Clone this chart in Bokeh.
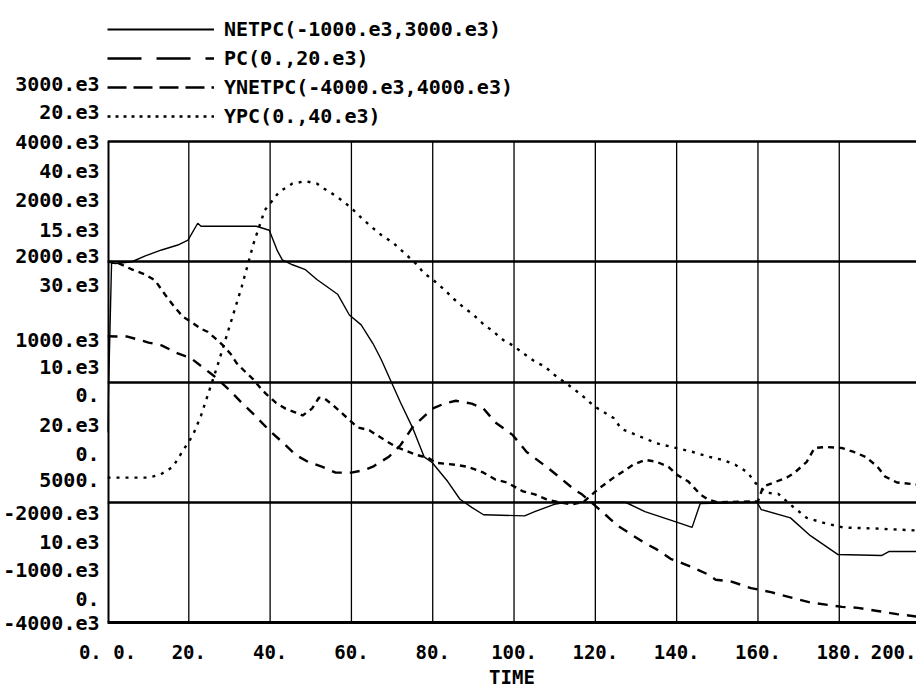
from bokeh.plotting import figure
from bokeh.models import Range1d, FixedTicker, Legend, LegendItem
from bokeh.embed import file_html
from bokeh.resources import INLINE

# ---------------- data ----------------
TIME_MIN, TIME_MAX = 0, 199
TIME_TICKS = [0, 20, 40, 60, 80, 100, 120, 140, 160, 180, 200]
TIME_LABELS = ["0.", "20.", "40.", "60.", "80.", "100.", "120.", "140.", "160.", "180.", "200."]

NETPC_MIN, NETPC_MAX = -1000e3, 3000e3
PC_MIN, PC_MAX = 0, 20e3
YNETPC_MIN, YNETPC_MAX = -4000e3, 4000e3
YPC_MIN, YPC_MAX = 0, 40e3

NETPC_LABELS = ["-1000.e3", "0.", "1000.e3", "2000.e3", "3000.e3"]
PC_LABELS = ["0.", "5000.", "10.e3", "15.e3", "20.e3"]
YNETPC_LABELS = ["-4000.e3", "-2000.e3", "0.", "2000.e3", "4000.e3"]
YPC_LABELS = ["0.", "10.e3", "20.e3", "30.e3", "40.e3"]

LEGEND_LABELS = ["NETPC(-1000.e3,3000.e3)", "PC(0.,20.e3)",
                 "YNETPC(-4000.e3,4000.e3)", "YPC(0.,40.e3)"]

T_NETPC = [0, 1.0, 2, 6, 9.3, 13.3, 17.3, 19.8, 22.2, 23, 36.6, 39.8, 41.8, 43, 45.5,
           48.7, 51.5, 56.6, 59.5, 62.4, 65.3, 67.3, 69.7, 72.1, 75, 77.9, 79.9, 83.7,
           86.7, 89.6, 92.5, 102.6, 105.1, 109.9, 112.8, 122.5, 127.4, 132.2, 140, 143.8,
           145.8, 159.8, 160.8, 168, 172.9, 179.7, 190.4, 192.3, 199]
NETPC_E3 = [580, 1990, 1985, 2000, 2049, 2098, 2139, 2180, 2320, 2295, 2295, 2262, 2090,
            2016, 1975, 1934, 1852, 1730, 1557, 1475, 1320, 1189, 1008, 828, 623, 377, 328,
            172, 25, -43, -104, -113, -78, -17, 0, 0, 0, -78, -165, -209, -10, 0, -61,
            -130, -278, -435, -443, -409, -409]

T_PC = [0, 4.9, 10.1, 13.3, 17.3, 20.6, 26.2, 30.2, 33, 35.8, 39.8, 43, 46.3, 49.3, 52.7,
        56.1, 60, 63.4, 65.3, 69.2, 72.1, 75, 79.9, 82.8, 85.7, 89.6, 92.5, 95.4, 99.7,
        103.1, 105.1, 108.9, 111.9, 114.8, 116.7, 119.6, 122.5, 125.4, 129.3, 132.2, 135.1,
        138.5, 141.9, 143.8, 147.7, 149.6, 153.5, 158.3, 163.2, 169, 172.9, 180.7, 184.6,
        189.4, 194.2, 199]
PC_E3 = [11.9, 11.89, 11.64, 11.52, 11.19, 10.98, 10.25, 9.63, 9.14, 8.69, 7.99, 7.5, 6.97,
         6.68, 6.48, 6.23, 6.23, 6.35, 6.48, 6.89, 7.38, 8.11, 8.89, 9.1, 9.22, 9.1, 8.89,
         8.32, 7.79, 7.09, 6.84, 6.35, 5.94, 5.53, 5.33, 4.91, 4.48, 4.04, 3.61, 3.30, 3.04,
         2.65, 2.43, 2.30, 2.0, 1.78, 1.70, 1.43, 1.26, 1.0, 0.83, 0.65, 0.61, 0.48, 0.35,
         0.25]

T_YNETPC = [0, 2.5, 6.1, 9.3, 11.7, 14.1, 16.5, 18.6, 20.6, 23, 24.6, 26.6, 28.2, 30.2,
            31.8, 34.2, 35.8, 37.8, 39, 41.4, 43.8, 46.3, 48, 50.3, 52, 53.5, 55.6, 61.5,
            64.4, 68.2, 71.1, 76, 78.9, 80.8, 85.7, 88.6, 92.5, 95.4, 98.3, 102.2, 105.1,
            108, 111, 114, 117, 120.6, 124.5, 129.3, 132.2, 135.1, 138, 140, 142.9, 145.8,
            147.7, 150, 160, 161.3, 167.1, 169, 172, 173.9, 176.8, 180.7, 183.6, 186.5,
            189.4, 191.3, 194.2, 199]
YNETPC_E3 = [2000, 1984, 1869, 1787, 1689, 1459, 1246, 1082, 1000, 885, 836, 721, 623, 475,
             311, 148, 49, -115, -197, -344, -443, -508, -557, -443, -262, -279, -393, -754,
             -803, -967, -1082, -1213, -1262, -1344, -1377, -1410, -1508, -1623, -1672,
             -1820, -1869, -1951, -2000, -2035, -2000, -1787, -1590, -1377, -1295, -1328,
             -1410, -1541, -1656, -1869, -1951, -2000, -1984, -1738, -1590, -1508, -1328,
             -1098, -1082, -1098, -1164, -1246, -1410, -1574, -1672, -1705]

T_YPC = [0, 10.1, 13, 16.1, 18.2, 21, 23, 24.6, 27, 30, 33, 36, 38.7, 40.6, 42.2, 45.5,
         48.7, 51.5, 53.2, 55.6, 58.1, 60.5, 62.9, 65.3, 67.8, 70.2, 73.1, 76, 77.7, 80.4,
         82.8, 85.2, 87.6, 90, 92.5, 94.9, 97.3, 99.9, 102.2, 105.1, 107.5, 109.9, 112.8,
         114.8, 117.7, 119.6, 124.5, 126.4, 129.3, 132.2, 135.1, 140, 143.8, 147.7, 151.6,
         154.5, 157.4, 159.4, 162, 165, 168, 172, 176, 181, 190, 199]
YPC_E3 = [12.05, 12.05, 12.3, 12.95, 14.1, 15.57, 17.2, 18.85, 21.3, 24.6, 27.9, 31.6, 34.3,
          35.1, 35.8, 36.5, 36.7, 36.5, 36.1, 35.6, 35.0, 34.3, 33.5, 32.8, 32.1, 31.6, 30.7,
          29.8, 29.1, 28.4, 27.7, 26.9, 26.2, 25.6, 24.8, 24.2, 23.5, 23.0, 22.4, 21.7, 21.3,
          20.6, 19.9, 19.4, 18.6, 18.0, 17.0, 16.1, 15.7, 15.3, 14.9, 14.5, 14.2, 13.8, 13.5,
          13.1, 12.5, 11.6, 10.8, 10.7, 9.8, 8.7, 8.3, 7.9, 7.8, 7.65]

# ---------------- layout / style ----------------
FONT = "DejaVu Sans Mono"
X_SIZE = "19px"
Y_SIZE = "20px"
LEG_SIZE = "20px"
W, H = 916, 690
MB_LEFT, MB_TOP, MB_BOTTOM = 98, 17, 68
BOX_TOP_GAP = 124                       # px between frame top and top of plot box
FRAME_H = H - MB_TOP - MB_BOTTOM
BOX_H = FRAME_H - BOX_TOP_GAP
EXT = BOX_TOP_GAP / (BOX_H / 4.0)       # extra grid intervals above the box (legend area)
# px offsets (up = +) of the 4 stacked scale labels (NETPC, PC, YNETPC, YPC) at each level,
# following the character rows of the original printout
ROW_OFFSETS = [[53, 24, 0, None],
               [48, 22, -11, -40],
               [42, 15, -13, -43],
               [62, 32, 6, -23],
               [58, 30, 0, -30]]
LAST_LABEL_POS = 193.5                  # where the printer squeezed the last time label
NAN = float("nan")


def ext_range(lo, hi):
    return Range1d(lo, hi + EXT * (hi - lo) / 4.0)


p = figure(width=W, height=H, output_backend="svg", toolbar_location=None,
           x_range=Range1d(TIME_MIN, TIME_MAX),
           y_range=ext_range(YNETPC_MIN, YNETPC_MAX),
           min_border_left=MB_LEFT, min_border_right=0,
           min_border_top=MB_TOP, min_border_bottom=MB_BOTTOM)
p.extra_y_ranges = {
    "netpc": ext_range(NETPC_MIN, NETPC_MAX),
    "pc": ext_range(PC_MIN, PC_MAX),
    "ypc": ext_range(YPC_MIN, YPC_MAX),
}
p.outline_line_color = None
p.background_fill_color = "white"
p.border_fill_color = "white"

levels = [YNETPC_MIN + k * (YNETPC_MAX - YNETPC_MIN) / 4.0 for k in range(5)]
upp = (YNETPC_MAX - YNETPC_MIN) / BOX_H

# grid: horizontal lines (scale levels), vertical lines (time ticks)
p.xgrid.visible = False
p.ygrid.ticker = FixedTicker(ticks=levels)
p.ygrid.grid_line_color = "black"
p.ygrid.grid_line_width = 2.5

inner_ticks = TIME_TICKS[1:-1]
p.segment(x0=inner_ticks, y0=[YNETPC_MIN] * len(inner_ticks),
          x1=inner_ticks, y1=[YNETPC_MAX] * len(inner_ticks),
          line_color="black", line_width=1.3)
p.segment(x0=[TIME_MIN], y0=[YNETPC_MIN], x1=[TIME_MIN], y1=[YNETPC_MAX],
          line_color="black", line_width=4)

# curves
p.line(T_NETPC, [v * 1e3 for v in NETPC_E3], y_range_name="netpc",
       line_color="black", line_width=1.4)
p.line(T_PC, [v * 1e3 for v in PC_E3], y_range_name="pc",
       line_color="black", line_width=2.4, line_dash="10 8")
p.line(T_YNETPC, [v * 1e3 for v in YNETPC_E3],
       line_color="black", line_width=2.4, line_dash="6 5")
p.line(T_YPC, [v * 1e3 for v in YPC_E3], y_range_name="ypc",
       line_color="black", line_width=2.4, line_dash="3 6")

# legend sample renderers (nothing drawn in the plot, only their line style)
leg_styles = [dict(line_dash="solid", line_width=2),
              dict(line_dash="34 15", line_width=2.5),
              dict(line_dash="19 7", line_width=2.5),
              dict(line_dash="3 5", line_width=2.5)]
items = []
for lab, st in zip(LEGEND_LABELS, leg_styles):
    rr = p.line(x=[NAN, NAN], y=[NAN, NAN], line_color="black", **st)
    items.append(LegendItem(label=lab, renderers=[rr]))
legend = Legend(items=items, location="top_left", orientation="vertical",
                glyph_width=107, glyph_height=20, label_height=20, spacing=5,
                padding=0, margin=0, label_standoff=10,
                border_line_color=None, background_fill_alpha=0,
                label_text_font=FONT, label_text_font_style="bold",
                label_text_font_size=LEG_SIZE, label_text_color="black")
p.add_layout(legend)

# y axis: the four stacked scale labels at each grid level
ticks, overrides = [], {}
for k, lvl in enumerate(levels):
    for labs, off in zip([NETPC_LABELS, PC_LABELS, YNETPC_LABELS, YPC_LABELS], ROW_OFFSETS[k]):
        if off is None:
            continue
        v = int(round(lvl + off * upp))
        ticks.append(v)
        overrides[v] = labs[k]
ya = p.yaxis[0]
ya.ticker = FixedTicker(ticks=ticks)
ya.major_label_overrides = overrides
ya.axis_line_color = None
ya.major_tick_line_color = None
ya.minor_tick_line_color = None
ya.major_label_standoff = 2
ya.major_label_text_font = FONT
ya.major_label_text_font_style = "bold"
ya.major_label_text_font_size = Y_SIZE
ya.major_label_text_color = "black"

# x axis; the bottom YPC scale label "0." shares the row with the first time label
x_ticks = TIME_TICKS[:-1] + [LAST_LABEL_POS]
x_labels = [YPC_LABELS[0] + " " + TIME_LABELS[0]] + TIME_LABELS[1:]
xa = p.xaxis[0]
xa.ticker = FixedTicker(ticks=x_ticks)
xa.major_label_overrides = {t: l for t, l in zip(x_ticks, x_labels)}
xa.axis_line_width = 3
xa.axis_line_color = "black"
xa.major_tick_line_color = None
xa.minor_tick_line_color = None
xa.major_label_standoff = 12
xa.major_label_text_font = FONT
xa.major_label_text_font_style = "bold"
xa.major_label_text_font_size = X_SIZE
xa.major_label_text_color = "black"
xa.axis_label = "TIME"
xa.axis_label_standoff = 0
xa.axis_label_text_font = FONT
xa.axis_label_text_font_style = "bold"
xa.axis_label_text_font_size = X_SIZE
xa.axis_label_text_color = "black"

open("out.html", "w").write(file_html(p, INLINE))
